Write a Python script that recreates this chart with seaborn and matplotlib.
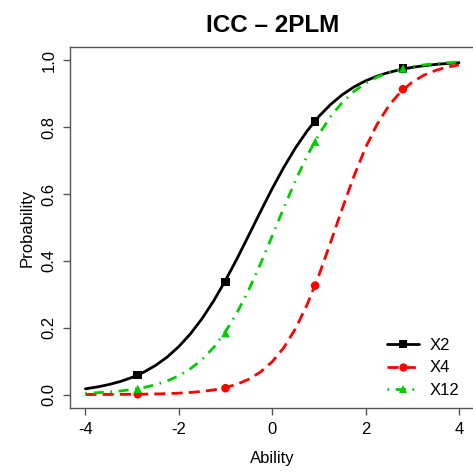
import numpy as np
import pandas as pd
import matplotlib
matplotlib.use('Agg')
import matplotlib.pyplot as plt
from matplotlib.lines import Line2D
import seaborn as sns

# ability grid and item curves
theta = np.arange(-4, 4.01, 0.25)

p_x2 = [0.0172, 0.0227, 0.0299, 0.0392, 0.0514, 0.0671, 0.0871, 0.1122, 0.1437,
        0.1820, 0.2279, 0.2813, 0.3419, 0.4078, 0.4775, 0.5479, 0.6166, 0.6807,
        0.7388, 0.7895, 0.8327, 0.8684, 0.8975, 0.9207, 0.9391, 0.9534, 0.9644,
        0.9729, 0.9795, 0.9844, 0.9882, 0.9911, 0.9933]
p_x4 = [0.0002, 0.0002, 0.0004, 0.0006, 0.0008, 0.0012, 0.0019, 0.0028, 0.0042,
        0.0063, 0.0094, 0.0140, 0.0209, 0.0311, 0.0460, 0.0676, 0.0982, 0.1407,
        0.1975, 0.2701, 0.3573, 0.4554, 0.5568, 0.6538, 0.7394, 0.8101, 0.8651,
        0.9060, 0.9354, 0.9561, 0.9703, 0.9801, 0.9867]
p_x12 = [0.0039, 0.0055, 0.0077, 0.0108, 0.0151, 0.0210, 0.0293, 0.0407, 0.0562,
         0.0772, 0.1052, 0.1417, 0.1883, 0.2458, 0.3141, 0.3915, 0.4748, 0.5595,
         0.6409, 0.7149, 0.7789, 0.8319, 0.8743, 0.9071, 0.9321, 0.9507, 0.9644,
         0.9744, 0.9816, 0.9869, 0.9906, 0.9933, 0.9952]

# marker points
mark_theta = [-2.88, -1.0, 0.92, 2.8]
mark_x2 = [0.058, 0.337, 0.818, 0.976]
mark_x4 = [0.001, 0.019, 0.326, 0.914]
mark_x12 = [0.017, 0.184, 0.757, 0.976]

labels = ['X2', 'X4', 'X12']
colors = ['black', '#FF0000', '#00CD00']
styles = ['-', (0, (4, 2.2)), (0, (0.6, 2.4, 3.6, 2.4))]
markers = ['s', 'o', '^']

sns.set_style('white')
plt.rcParams['font.family'] = ['Liberation Sans', 'DejaVu Sans']
plt.rcParams['axes.unicode_minus'] = False
plt.rcParams['text.color'] = 'black'
plt.rcParams['axes.labelcolor'] = 'black'
plt.rcParams['xtick.color'] = 'black'
plt.rcParams['ytick.color'] = 'black'

fig = plt.figure(figsize=(4.73, 4.76), dpi=100)
ax = fig.add_axes([0.149, 0.143, 0.853, 0.758])

curves = [p_x2, p_x4, p_x12]
marks = [mark_x2, mark_x4, mark_x12]
for lab, col, ls, mk, yv, my in zip(labels, colors, styles, markers, curves, marks):
    sns.lineplot(x=theta, y=yv, ax=ax, color=col, linestyle=ls, linewidth=2.0)
    sns.scatterplot(x=mark_theta, y=my, ax=ax, color=col, marker=mk, s=38,
                    edgecolor='none', zorder=3)

ax.set_xlim(-4.32, 4.32)
ax.set_ylim(-0.04, 1.04)
ax.set_xticks([-4, -2, 0, 2, 4])
ax.set_yticks([0.0, 0.2, 0.4, 0.6, 0.8, 1.0])
ax.set_yticklabels(['0.0', '0.2', '0.4', '0.6', '0.8', '1.0'], rotation=90, va='center')
ax.tick_params(axis='both', direction='out', length=5, width=1, color='#555555',
               labelcolor='black', labelsize=12, pad=5, left=True, bottom=True)
for sp in ax.spines.values():
    sp.set_color('#555555')
    sp.set_linewidth(1)

ax.set_xlabel('Ability', fontsize=12, labelpad=10, color='black')
ax.set_ylabel('Probability', fontsize=12, labelpad=5, color='black')
ax.set_title('ICC \u2013 2PLM', fontsize=17.5, fontweight='bold', pad=11, color='black')

handles = [Line2D([0], [0], color=c, linestyle=ls, linewidth=2.0, marker=m,
                  markersize=6, markeredgewidth=0)
           for c, ls, m in zip(colors, styles, markers)]
ax.legend(handles, labels, loc='lower right', bbox_to_anchor=(1.0, -0.014),
          frameon=False, fontsize=12, handlelength=1.95, labelspacing=0.45,
          handletextpad=0.6)

fig.savefig('out.png', dpi=100)
